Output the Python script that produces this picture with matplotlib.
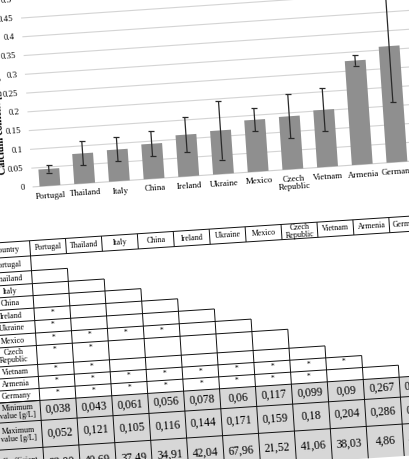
import numpy as np
import matplotlib.pyplot as plt
from matplotlib.patches import Rectangle
from matplotlib.transforms import Affine2D

# chart data (calcium content per country, mean and error bar)
countries = ["Portugal", "Thailand", "Italy", "China", "Ireland", "Ukraine",
             "Mexico", "Czech\nRepublic", "Vietnam", "Armenia", "Germany"]
mean_ca = [0.045, 0.080, 0.084, 0.093, 0.111, 0.116, 0.138, 0.141, 0.152, 0.277, 0.309]
err_ca = [0.010, 0.032, 0.032, 0.033, 0.047, 0.078, 0.030, 0.058, 0.057, 0.014, 0.149]
yticks = [0, 0.05, 0.1, 0.15, 0.2, 0.25, 0.3, 0.35, 0.4, 0.45, 0.5]
ytick_labels = ["0", "0.05", "0.1", "0.15", "0.2", "0.25", "0.3", "0.35", "0.4", "0.45", "0.5"]
ylabel = "Calcium content [g/L]"

# table data: columns marked with * in each row, then the statistics rows
sig_cols = [[], [], [], [], [0], [0], [0, 1, 2, 3], [0, 1], [0, 1],
            [0, 1, 2, 3, 4, 5, 6, 7, 8], [0, 1, 2, 3, 4, 5, 6, 7]]
min_vals = [0.038, 0.043, 0.061, 0.056, 0.078, 0.06, 0.117, 0.099, 0.09, 0.267, 0.151]
max_vals = [0.052, 0.121, 0.105, 0.116, 0.144, 0.171, 0.159, 0.18, 0.204, 0.286, 0.482]
cv_vals = [22.00, 40.69, 37.49, 34.91, 42.04, 67.96, 21.52, 41.06, 38.03, 4.86, 48.22]
stat_labels = ["Minimum\nvalue [g/L]", "Maximum\nvalue [g/L]", "Coefficient\nof variation [%]"]

W, H = 410, 459
SERIF = "Liberation Serif"
fig = plt.figure(figsize=(W / 100, H / 100), dpi=100)

# the page is photographed slightly turned
rot_chart = Affine2D().rotate_deg_around(W / 2, H / 2, 3.9)
rot_table = Affine2D().rotate_deg_around(W / 2, H / 2, 3.7)

# ---- bar chart ----
ax = fig.add_axes([35.9 / W, (H - 175.3) / H, 382.6 / W, 188.1 / H])
ax.axis("off")
tr = ax.transData + rot_chart
x = np.arange(len(countries))

ax.hlines(yticks[1:], -0.5, 11.5, color="#d4d4d4", lw=0.8, transform=tr, clip_on=False, zorder=1)
ax.hlines([0], -0.5, 11.5, color="#cfcfcf", lw=0.8, transform=tr, clip_on=False, zorder=1)

bars = ax.bar(x, mean_ca, width=0.6, color="#8f8f8f", zorder=2)
for b in bars:
    b.set_transform(tr)
    b.set_clip_on(False)

eb = ax.errorbar(x, mean_ca, yerr=err_ca, fmt="none", ecolor="#2a2a2a",
                 elinewidth=0.9, capsize=2, capthick=0.9, zorder=3)
for art in list(eb.lines[1]) + list(eb.lines[2]):
    art.set_transform(tr)
    art.set_clip_on(False)

for v, lab in zip(yticks, ytick_labels):
    ax.text(-0.72, v, lab, ha="right", va="center", rotation=3.9, rotation_mode="anchor",
            transform=tr, fontsize=6.4, family=SERIF, clip_on=False)
for i, lab in enumerate(countries):
    ax.text(i, -0.016, lab, ha="center", va="top", ma="center", rotation=3.9,
            rotation_mode="anchor", transform=tr, fontsize=6.4, family=SERIF,
            linespacing=1.0, clip_on=False)
ax.text(-1.30, 0.04, ylabel, ha="left", va="center", rotation=93.9, rotation_mode="anchor",
        transform=tr, fontsize=7.5, weight="bold", family=SERIF, clip_on=False)

ax.set_xlim(-0.5, 10.5)
ax.set_ylim(0, 0.5)

# ---- significance table ----
axt = fig.add_axes([0, 0, 1, 1])
axt.axis("off")
axt.set_xlim(0, W)
axt.set_ylim(H, 0)
trt = axt.transData + rot_table

label_left = -17.0
col_x = 29.2 + 36.0 * np.arange(len(countries) + 1)
hdr_top, hdr_bot = 229.4, 244.6
row_h = [14.8, 13.0, 12.0, 12.5, 12.5, 12.5, 12.5, 19.0, 12.0, 12.0, 12.0]
stat_h = [20.0, 27.0, 32.0]
row_y = hdr_bot + np.concatenate([[0], np.cumsum(row_h)])
stat_y = row_y[-1] + np.concatenate([[0], np.cumsum(stat_h)])
bottom = stat_y[-1]


def seg(x0, x1, y0, y1):
    axt.plot([x0, x1], [y0, y1], color="#111111", lw=0.7, transform=trt,
             clip_on=False, solid_capstyle="butt", zorder=3)


def txt(xc, yc, s, size, va="center"):
    axt.text(xc, yc, s, ha="center", va=va, ma="center", rotation=3.7,
             rotation_mode="anchor", transform=trt, fontsize=size, family=SERIF,
             linespacing=1.0, clip_on=False, zorder=4)


# gray statistics block
axt.add_patch(Rectangle((label_left, stat_y[0]), col_x[-1] - label_left, bottom - stat_y[0],
                        facecolor="#d7d7d7", edgecolor="none", transform=trt,
                        clip_on=False, zorder=1))

# header
seg(label_left, col_x[-1], hdr_top, hdr_top)
seg(label_left, col_x[-1], hdr_bot, hdr_bot)
for cx in col_x[1:]:
    seg(cx, cx, hdr_top, hdr_bot)
seg(col_x[0], col_x[0], hdr_top, bottom)

# row label column
for ry in row_y[1:]:
    seg(label_left, col_x[0], ry, ry)

# lower-triangle staircase
for i in range(1, len(countries)):
    seg(col_x[0], col_x[i], row_y[i], row_y[i])
    seg(col_x[i], col_x[i], row_y[i], bottom)
seg(col_x[-1], col_x[-1], stat_y[0], bottom)
for sy in stat_y[:-1]:
    seg(label_left, col_x[-1], sy, sy)

txt((label_left + col_x[0]) / 2, (hdr_top + hdr_bot) / 2, "Country", 5.8)
for j, lab in enumerate(countries):
    cxm = (col_x[j] + col_x[j + 1]) / 2
    txt(cxm, (hdr_top + hdr_bot) / 2, lab, 5.8)
for i, lab in enumerate(countries):
    txt((label_left + col_x[0]) / 2, (row_y[i] + row_y[i + 1]) / 2, lab, 5.8)
    for j in sig_cols[i]:
        txt((col_x[j] + col_x[j + 1]) / 2, row_y[i] + 1.5, "*", 5.5, va="top")

stat_text = [[str(v).replace(".", ",") for v in min_vals],
             [str(v).replace(".", ",") for v in max_vals],
             [f"{v:.2f}".replace(".", ",") for v in cv_vals]]
for k, lab in enumerate(stat_labels):
    yc = (stat_y[k] + stat_y[k + 1]) / 2
    txt((label_left + col_x[0]) / 2, yc, lab, 5.8)
    for j, s in enumerate(stat_text[k]):
        txt((col_x[j] + col_x[j + 1]) / 2, yc, s, 8.3)

fig.savefig("out.png", dpi=100, facecolor="white")
